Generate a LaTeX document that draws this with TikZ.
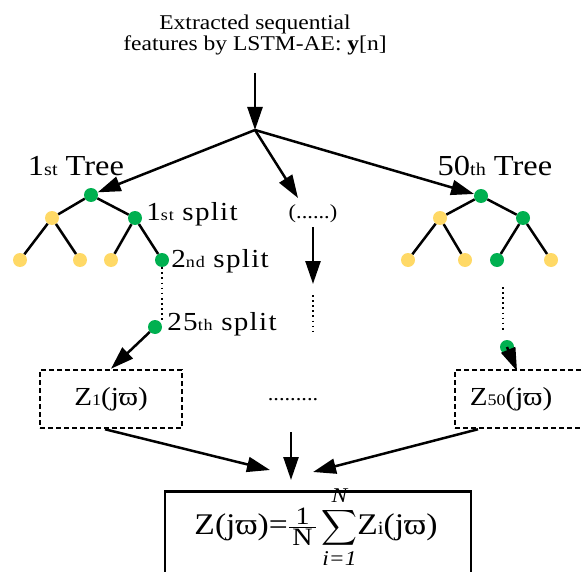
\documentclass[tikz,border=0pt]{standalone}
\usepackage{amsmath}
\usepackage{fontspec}
\setmainfont{Liberation Serif}[FakeStretch=1.12]
\usetikzlibrary{arrows.meta, positioning}
\definecolor{rfgreen}{RGB}{0,176,80}
\definecolor{rfyellow}{RGB}{255,217,102}
\newcommand{\lo}[1]{\scalebox{0.62}{#1}}
\newcommand{\fr}[1]{\hbox{\fontsize{25}{25}\selectfont #1}}
\tikzset{
    split/.style={circle, fill=rfgreen, minimum size=14pt, inner sep=0pt},
    leaf/.style={split, fill=rfyellow},
    edge/.style={line width=2.5pt},
    arrow/.style={-{Triangle[length=23pt, width=15pt]}, line width=2.5pt},
    dotline/.style={line width=2.3pt, dash pattern=on 1.7pt off 3.4pt},
    zbox/.style={draw, line width=2.5pt, dash pattern=on 5pt off 3pt,
                 minimum width=142pt, minimum height=58pt, font=\fontsize{26}{28}\selectfont},
    lbl/.style={font=\fontsize{26}{28}\selectfont\addfontfeatures{LetterSpace=5}, inner sep=0pt},
    treelbl/.style={font=\fontsize{29}{30}\selectfont, inner sep=0pt},
}

\begin{document}
\begin{tikzpicture}[x=1pt, y=-1pt]
    \useasboundingbox (0,0) rectangle (583,572);
    \clip (0,0) rectangle (583,572);
    % input features
    \node[align=center, font=\fontsize{21}{21}\selectfont, inner sep=0pt] (feat) at (255,35)
        {Extracted sequential\\features by LSTM-AE: \textbf{y}[n]};
    \coordinate (fork) at (255,130);
    \draw[arrow] (255,73) -- (fork);
    % first tree
    \node[treelbl] (t1) at (76,166) {1\lo{st} Tree};
    \node[split] (r1) at (91,195) {};
    \node[leaf] (a1) at (52,218) {};
    \node[split] (b1) at (135,218) {};
    \node[leaf] (c1) at (20,260) {};
    \node[leaf] (d1) at (80,260) {};
    \node[leaf] (e1) at (111,260) {};
    \node[split] (f1) at (162,260) {};
    \node[split] (g1) at (155,327) {};
    \draw[edge] (r1) -- (a1);
    \draw[edge] (r1) -- (b1);
    \draw[edge] (a1) -- (c1);
    \draw[edge] (a1) -- (d1);
    \draw[edge] (b1) -- (e1);
    \draw[edge] (b1) -- (f1);
    \draw[dotline] (f1) -- (g1.north -| f1);
    \node[lbl, right=4pt of b1, yshift=4pt] {1\lo{st} split};
    \node[lbl, right=2pt of f1, yshift=-1pt] {2\lo{nd} split};
    \node[lbl, right=5pt of g1, yshift=3pt] {25\lo{th} split};
    % middle
    \node[lbl, font=\fontsize{20}{22}\selectfont] (mid) at (313,214) {(......)};
    \coordinate (mtop) at (313,295);
    \coordinate (mbot) at (313,334);
    \draw[arrow] (fork) -- (298,198);
    \draw[arrow] (mid.south) ++(0,4) -- (313,284);
    \draw[dotline] (mtop) -- (mbot);
    % last tree
    \node[treelbl] (t50) at (495,166) {50\lo{th} Tree};
    \node[split] (r50) at (481,196) {};
    \node[leaf] (a50) at (440,218) {};
    \node[split] (b50) at (523,218) {};
    \node[leaf] (c50) at (408,260) {};
    \node[leaf] (d50) at (465,260) {};
    \node[split] (e50) at (497,260) {};
    \node[leaf] (f50) at (551,260) {};
    \node[split] (g50) at (507,347) {};
    \draw[edge] (r50) -- (a50);
    \draw[edge] (r50) -- (b50);
    \draw[edge] (a50) -- (c50);
    \draw[edge] (a50) -- (d50);
    \draw[edge] (b50) -- (e50);
    \draw[edge] (b50) -- (f50);
    \draw[dotline] (503,287) -- (503,330);
    \draw[arrow] (fork) -- (r1);
    \draw[arrow] (fork) -- (r50);
    % tree outputs
    \node[zbox] (z1) at (111,399) {Z\lo{1}(jϖ)};
    \node[zbox, minimum width=150pt] (z50) at (530,399) {\hspace*{-38pt}Z\lo{50}(jϖ)};
    \node[lbl, font=\fontsize{20}{22}\selectfont] (zdots) at (293,400) {.........};
    \draw[arrow] (g1) -- (z1.north);
    \draw[arrow] (g50.center) -- (517,371);
    % aggregation
    \node[draw, line width=2.5pt, minimum width=306pt, minimum height=100pt, anchor=north] (avg) at (318,490) {};
    \node[font=\fontsize{30}{32}\selectfont, inner sep=0pt, anchor=base] (eq) at (316,534)
        {Z(jϖ)=$\frac{\fr{1}}{\,\fr{N}\,}\displaystyle\sum_{\text{\itshape i=1}}^{\text{\itshape N}}$Z\lo{i}(jϖ)};
    \draw[arrow] (z1.south) ++(-6,0) -- (270,470);
    \draw[arrow] (291,432) -- (291,480);
    \draw[arrow] (z50.south) ++(-52,0) -- (313,472);
\end{tikzpicture}
\end{document}
